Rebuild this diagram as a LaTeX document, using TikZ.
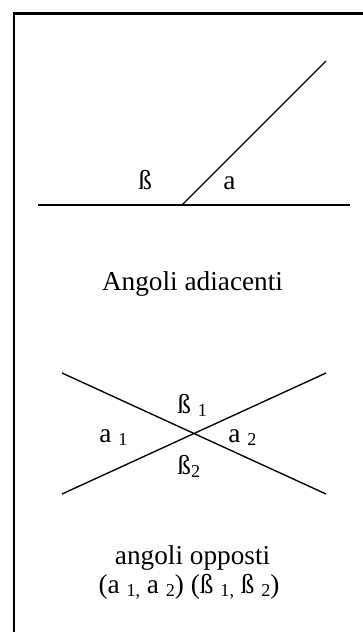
\documentclass[tikz,border=0pt]{standalone}
\usepackage{fontspec}
\setmainfont{Liberation Serif}
\newcommand{\dn}[1]{\raisebox{-1.5pt}{\fontsize{8}{9}\selectfont #1}}
\begin{document}
\begin{tikzpicture}[x=0.44pt, y=-0.44pt,
  ln/.style={line width=0.6pt},
  lbl/.style={inner sep=0pt, anchor=base west, font=\fontsize{12}{14}\selectfont},
  capt/.style={inner sep=0pt, anchor=base, font=\fontsize{12}{14}\selectfont, align=center}]
  \useasboundingbox (0,0) rectangle (363,632);
  \clip (0,0) rectangle (363,632);
  % frame (only top and left edge in view)
  \draw[line width=0.9pt] (14,13.5) rectangle (390,660);
  % adjacent angles
  \coordinate (h1) at (38,205);
  \coordinate (h2) at (350,205);
  \coordinate (o) at (182,205);
  \coordinate (s) at (326,61);
  \draw[ln] (h1) -- (h2);
  \draw[ln] (o) -- (s);
  \node[lbl] (b) at (138,190) {ß};
  \node[lbl] (a) at (223,190) {a};
  \node[capt] (t1) at (192.5,290) {Angoli adiacenti};
  % opposite angles
  \coordinate (p1) at (62,373);
  \coordinate (p2) at (326,494);
  \coordinate (q1) at (62,494);
  \coordinate (q2) at (326,373);
  \draw[ln] (p1) -- (p2);
  \draw[ln] (q1) -- (q2);
  \node[lbl] (b1) at (177,413) {ß \dn{1}};
  \node[lbl] (a1) at (99,442) {a \dn{1}};
  \node[lbl] (a2) at (228,442) {a \dn{2}};
  \node[lbl] (b2) at (177,474) {ß\dn{2}};
  \node[capt] (t2) at (192.6,564) {angoli opposti};
  \node[capt] (t3) at (189,593) {(a \dn{1,} a \dn{2}) (ß \dn{1,} ß \dn{2})};
\end{tikzpicture}
\end{document}
